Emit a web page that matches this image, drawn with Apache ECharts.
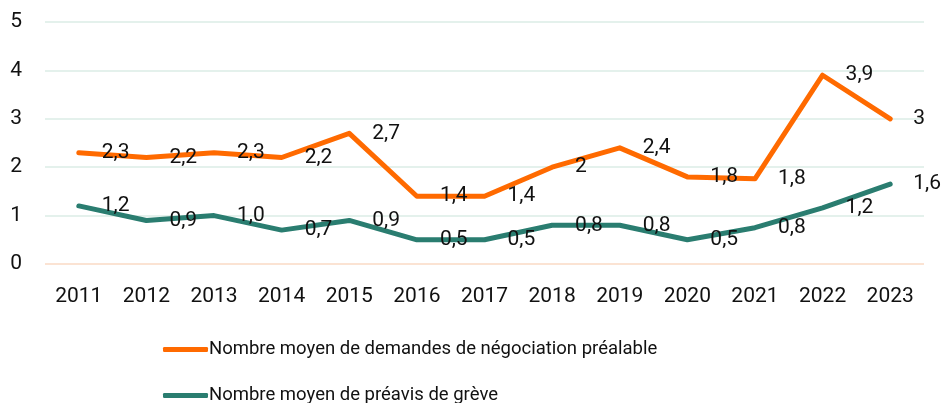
<!DOCTYPE html>
<html><head><meta charset="utf-8">
<script src="https://cdn.jsdelivr.net/npm/echarts@6/dist/echarts.min.js"></script>
<style>html,body{margin:0;padding:0;background:#fff}#c{width:946px;height:403px}</style>
</head><body><div id="c"></div>
<script>
const years = ['2011','2012','2013','2014','2015','2016','2017','2018','2019','2020','2021','2022','2023'];
const negoName = 'Nombre moyen de demandes de négociation préalable';
const negoValues = [2.3,2.2,2.3,2.2,2.7,1.4,1.4,2.0,2.4,1.8,1.76,3.9,3.0];
const negoLabels = ['2,3','2,2','2,3','2,2','2,7','1,4','1,4','2','2,4','1,8','1,8','3,9','3'];
const greveName = 'Nombre moyen de préavis de grève';
const greveValues = [1.2,0.9,1.0,0.7,0.9,0.5,0.5,0.8,0.8,0.5,0.75,1.16,1.65];
const greveLabels = ['1,2','0,9','1,0','0,7','0,9','0,5','0,5','0,8','0,8','0,5','0,8','1,2','1,6'];
const yTicks = [0,1,2,3,4,5];

const font = 'Roboto, "Noto Sans", sans-serif';
const chart = echarts.init(document.getElementById('c'), null, {renderer:'canvas'});
function mk(name, vals, labels, color){
  return {
    name, type:'line', data: vals, symbol:'circle', symbolSize:0, showSymbol:true,
    lineStyle:{color, width:5, cap:'round', join:'round'},
    itemStyle:{color},
    label:{show:true, position:'right', distance:23, color:'#111', fontSize:21, fontFamily:font,
      formatter: p => labels[p.dataIndex]},
    emphasis:{disabled:true}, animation:false
  };
}
function leg(name, top){
  return {orient:'vertical', left:158, top, itemWidth:45, itemHeight:5, itemGap:0, icon:'roundRect',
    textStyle:{color:'#111', fontSize:18.5, fontFamily:'Roboto, sans-serif', padding:[0,0,0,-4]},
    data:[name]};
}
chart.setOption({
  animation:false,
  grid:{left:45, right:22, top:22, bottom:139},
  xAxis:{type:'category', data:years, boundaryGap:true,
    axisLine:{show:false}, axisTick:{show:false},
    axisLabel:{color:'#111', fontSize:21, fontFamily:font, margin:22}},
  yAxis:{type:'value', min:0, max:5, interval:1,
    axisLine:{show:false}, axisTick:{show:false},
    axisLabel:{color:'#111', fontSize:21, fontFamily:font, margin:23, formatter: v => yTicks.includes(v) ? String(v) : ''},
    splitLine:{lineStyle:{color:['#fbe3d3','#e4f1ec','#e4f1ec','#e4f1ec','#e4f1ec','#e4f1ec'], width:2}}},
  legend:[leg(negoName, 335), leg(greveName, 381)],
  series:[mk(negoName, negoValues, negoLabels, '#ff6a00'), mk(greveName, greveValues, greveLabels, '#2a7d70')]
});
</script></body></html>
